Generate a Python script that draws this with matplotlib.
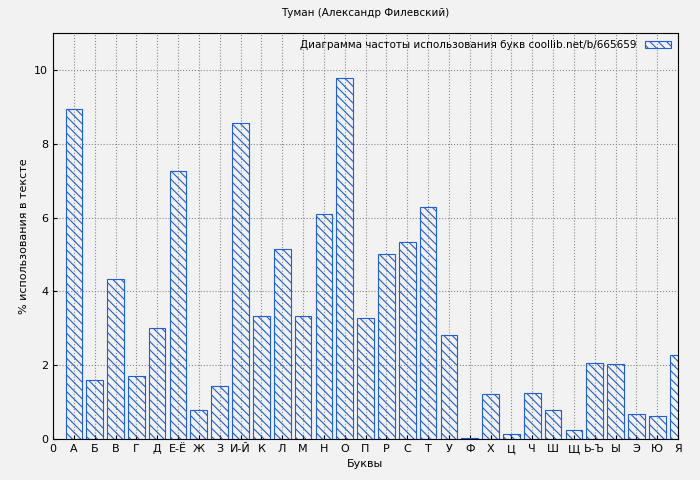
import matplotlib
matplotlib.use("Agg")
import matplotlib.pyplot as plt

tick_labels = ["0","А","Б","В","Г","Д","Е-Ё","Ж","З","И-Й","К","Л","М","Н","О","П","Р","С","Т","У","Ф","Х","Ц","Ч","Ш","Щ","Ь-Ъ","Ы","Э","Ю","Я"]
letters = tick_labels[1:]
values = [8.94,1.60,4.34,1.71,3.01,7.26,0.79,1.44,8.56,3.33,5.15,3.33,6.10,9.78,3.28,5.01,5.34,6.29,2.82,0.03,1.22,0.14,1.25,0.79,0.24,2.06,2.03,0.68,0.62,2.28]

plt.rcParams['hatch.color'] = '#1f5fcf'
plt.rcParams['hatch.linewidth'] = 0.8
fig = plt.figure(figsize=(7, 4.8), dpi=100, facecolor='#f2f2f2')
ax = fig.add_axes([53/700, 1-439/480, 625/700, 406/480], facecolor='#f2f2f2')
pos = list(range(1, len(letters)+1))
ax.bar(pos, values, width=0.8, facecolor='none', edgecolor='#1f5fcf', hatch='\\\\\\\\', linewidth=0.8,
       label='Диаграмма частоты использования букв coollib.net/b/665659')
ax.set_xlim(0, 30)
ax.set_ylim(0, 11)
ax.set_xticks(range(len(tick_labels)))
ax.set_xticklabels(tick_labels, fontsize=8)
ax.set_yticks([0,2,4,6,8,10])
ax.tick_params(axis='y', labelsize=8)
ax.tick_params(direction='in', length=3)
ax.grid(True, linestyle=':', color='#888888', linewidth=0.8)
ax.set_axisbelow(True)
ax.set_xlabel('Буквы', fontsize=8)
ax.set_ylabel('% использования в тексте', fontsize=8)
ax.set_title('Туман (Александр Филевский)', fontsize=7.5, pad=12)
leg = ax.legend(loc='upper right', fontsize=7.5, frameon=False, markerfirst=False,
                handlelength=2.5, handleheight=0.6, borderaxespad=0.3)
fig.savefig('out.png', dpi=100, facecolor=fig.get_facecolor())
